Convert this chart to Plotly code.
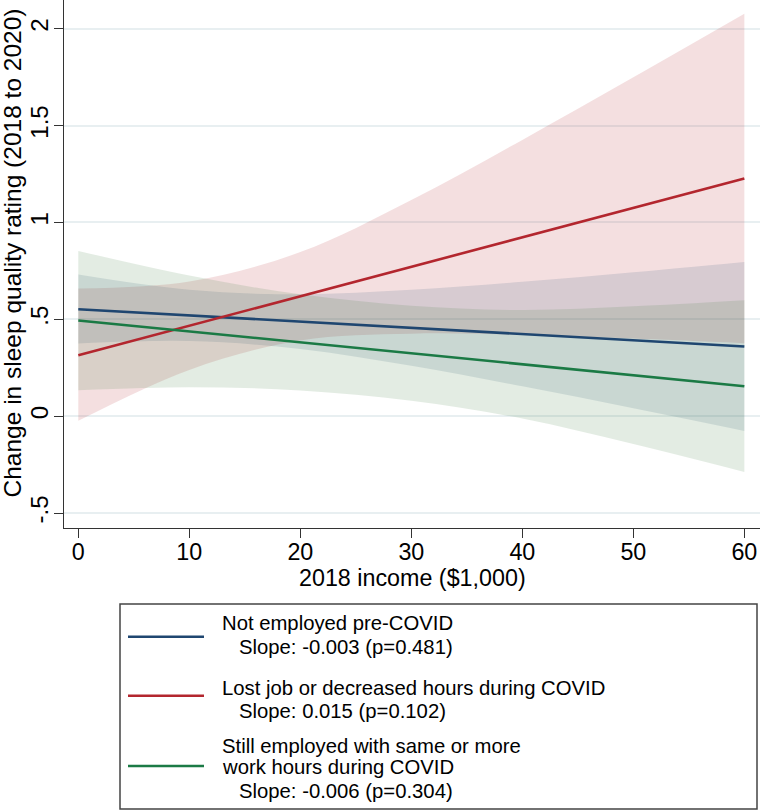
import plotly.graph_objects as go

# ---- data ----
income = [0, 10, 20, 30, 40, 50, 60]

not_emp_fit = [0.552, 0.520, 0.488, 0.456, 0.424, 0.392, 0.360]
not_emp_hi = [0.731, 0.652, 0.629, 0.652, 0.694, 0.743, 0.796]
not_emp_lo = [0.375, 0.388, 0.347, 0.260, 0.154, 0.041, -0.076]

lost_fit = [0.315, 0.467, 0.619, 0.771, 0.923, 1.075, 1.227]
lost_hi = [0.659, 0.695, 0.847, 1.116, 1.426, 1.749, 2.077]
lost_lo = [-0.024, 0.239, 0.391, 0.426, 0.420, 0.401, 0.377]

still_fit = [0.494, 0.438, 0.381, 0.325, 0.268, 0.212, 0.155]
still_hi = [0.853, 0.726, 0.629, 0.570, 0.548, 0.567, 0.598]
still_lo = [0.134, 0.150, 0.133, 0.080, -0.012, -0.144, -0.288]

y_tickvals = [-0.5, 0, 0.5, 1, 1.5, 2]
y_ticktext = ["-.5", "0", ".5", "1", "1.5", "2"]
x_tickvals = [0, 10, 20, 30, 40, 50, 60]

legend_lines = [
    ["Not employed pre-COVID", "Slope: -0.003 (p=0.481)"],
    ["Lost job or decreased hours during COVID", "Slope: 0.015 (p=0.102)"],
    ["Still employed with same or more", "work hours during COVID", "Slope: -0.006 (p=0.304)"],
]

# ---- styling ----
FONT = "Liberation Sans, Arial, Helvetica, sans-serif"
W, H = 760, 811
ML, MR, MT, MB = 64, 0, 0, 283
PW, PH = W - ML - MR, H - MT - MB

c_blue, c_red, c_green = "#1f4670", "#b3262e", "#1b7a45"
f_blue = "rgba(26,71,111,0.13)"
f_red = "rgba(180,40,45,0.15)"
f_green = "rgba(70,130,70,0.15)"


def px(x):
    return (x - ML) / PW


def py(y):
    return (MT + PH - y) / PH


fig = go.Figure()

bands = [
    (lost_lo, lost_hi, f_red),
    (not_emp_lo, not_emp_hi, f_blue),
    (still_lo, still_hi, f_green),
]
for lo, hi, fc in bands:
    fig.add_trace(go.Scatter(x=income, y=lo, mode="lines", line=dict(width=0, shape="spline"),
                             hoverinfo="skip", showlegend=False))
    fig.add_trace(go.Scatter(x=income, y=hi, mode="lines", line=dict(width=0, shape="spline"),
                             fill="tonexty", fillcolor=fc, hoverinfo="skip", showlegend=False))

for yv, col in [(not_emp_fit, c_blue), (lost_fit, c_red), (still_fit, c_green)]:
    fig.add_trace(go.Scatter(x=income, y=yv, mode="lines", line=dict(color=col, width=2.6),
                             showlegend=False))

fig.update_layout(
    width=W, height=H,
    margin=dict(l=ML, r=MR, t=MT, b=MB, autoexpand=False),
    paper_bgcolor="white", plot_bgcolor="white",
    font=dict(family=FONT, color="black"),
    showlegend=False,
)
fig.update_xaxes(
    range=[-1.29, 61.41], tickvals=x_tickvals, showgrid=False, zeroline=False,
    showline=True, linecolor="#333333", linewidth=1.3, automargin=False,
    ticks="outside", ticklen=9, tickwidth=1.3, tickcolor="#333333",
    ticklabelstandoff=-6,
    tickfont=dict(size=23.3, family=FONT, color="black"),
)
fig.update_yaxes(
    range=[-0.577, 2.148], tickvals=y_tickvals, ticktext=y_ticktext, tickangle=-90,
    showgrid=True, gridcolor="#e8eff1", gridwidth=1.5, zeroline=False,
    showline=True, linecolor="#333333", linewidth=1.3, automargin=False,
    ticks="outside", ticklen=9, tickwidth=1.3, tickcolor="#333333",
    ticklabelstandoff=-4,
    tickfont=dict(size=24, family=FONT, color="black"),
)

annotations = [
    dict(text="Change in sleep quality rating (2018 to 2020)", textangle=-90,
         x=px(12.5), y=py(253), xref="paper", yref="paper", xanchor="center", yanchor="middle",
         showarrow=False, font=dict(size=24.5, family=FONT, color="black")),
    dict(text="2018 income ($1,000)",
         x=px(412), y=py(578), xref="paper", yref="paper", xanchor="center", yanchor="middle",
         showarrow=False, font=dict(size=23.3, family=FONT, color="black")),
]

shapes = [
    dict(type="rect", xref="paper", yref="paper", x0=px(120), x1=px(757), y0=py(604), y1=py(809),
         line=dict(color="#444444", width=1.5), fillcolor="rgba(0,0,0,0)"),
]

sym_y = [636.7, 695.7, 766]
text_y = [[623.3, 647], [688, 711], [746, 767, 791]]
for col, sy, lines, tys in zip([c_blue, c_red, c_green], sym_y, legend_lines, text_y):
    shapes.append(dict(type="line", xref="paper", yref="paper", x0=px(128), x1=px(204),
                       y0=py(sy), y1=py(sy), line=dict(color=col, width=2.6)))
    for i, (t, ty) in enumerate(zip(lines, tys)):
        is_slope = t.startswith("Slope")
        annotations.append(dict(text=t, x=px(237 if is_slope else 220), y=py(ty),
                                xref="paper", yref="paper", xanchor="left", yanchor="middle",
                                showarrow=False, font=dict(size=20.3, family=FONT, color="black")))

fig.update_layout(annotations=annotations, shapes=shapes)
fig.write_html(
    "out.html",
    config={"displayModeBar": False},
    post_script="document.body.style.margin='0';document.body.style.overflow='hidden';",
)
